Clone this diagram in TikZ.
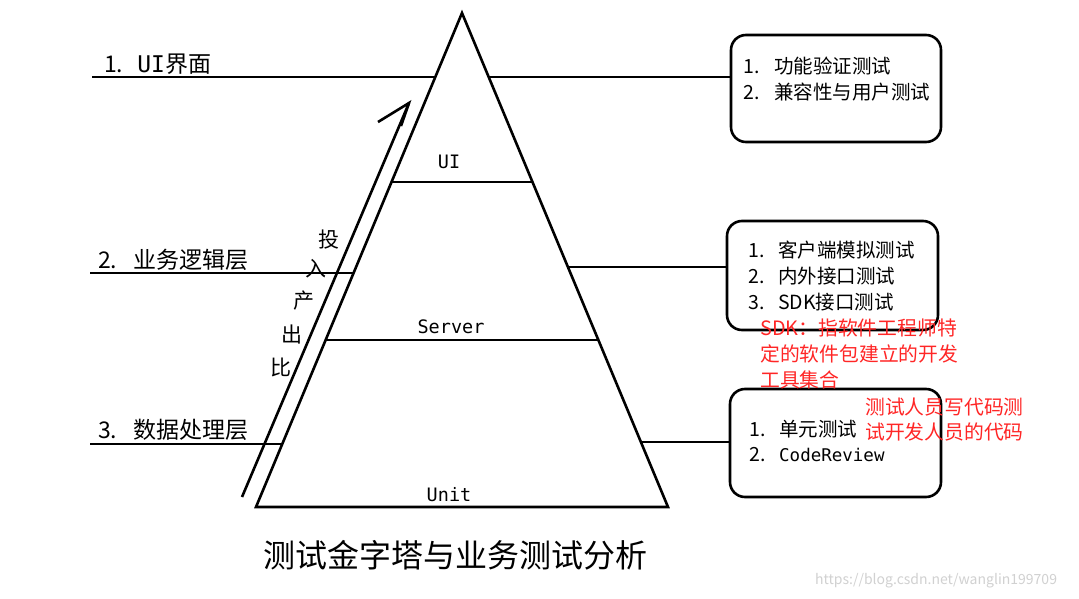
\documentclass[tikz,border=0pt]{standalone}
\usepackage{fontspec}
\setmainfont{Noto Sans CJK SC}
\newfontfamily\monof{DejaVu Sans Mono}
\begin{document}
\begin{tikzpicture}[x=1pt,y=-1pt,
  ln/.style={line width=2.6pt},
  box/.style={draw,line width=2.6pt,rounded corners=15pt,inner sep=0pt},
  lbl/.style={anchor=west,inner sep=0pt,font=\fontsize{23}{26}\selectfont},
  itm/.style={anchor=west,inner sep=0pt,font=\fontsize{19.5}{22}\selectfont},
  red/.style={anchor=west,inner sep=0pt,text=red!85!white,font=\fontsize{19.8}{22}\selectfont},
  lvl/.style={inner sep=0pt,font=\monof\fontsize{18.5}{20}\selectfont},
  vch/.style={inner sep=0pt,font=\fontsize{21}{24}\selectfont}]
\useasboundingbox[fill=white] (0,0) rectangle (1079,599);
% pyramid
\coordinate (apex) at (462,13);
\coordinate (bl) at (256,507);
\coordinate (br) at (668,507);
\draw[ln,line join=miter] (apex) -- (bl) -- (br) -- cycle;
\coordinate (uiL) at (391.5,182); \coordinate (uiR) at (532.5,182);
\coordinate (svL) at (325.6,340); \coordinate (svR) at (598.4,340);
\draw[ln] (uiL) -- (uiR);
\draw[ln] (svL) -- (svR);
\node[lvl] (ui) at (449,162) {UI};
\node[lvl] (server) at (451,327) {Server};
\node[lvl] (unit) at (449,495) {Unit};
% left labels and lines
\node[lbl] (l1) at (104,64) {1.\hspace{14pt}{\monof UI}界面};
\node[lbl] (l2) at (98,260) {2.\hspace{16pt}业务逻辑层};
\node[lbl] (l3) at (98,430) {3.\hspace{16pt}数据处理层};
\coordinate (a1) at (92,77);  \coordinate (e1) at (435,77);
\coordinate (a2) at (90,273); \coordinate (e2) at (354,273);
\coordinate (a3) at (90,444); \coordinate (e3) at (282,444);
\draw[ln] (a1) -- (e1);
\draw[ln] (a2) -- (e2);
\draw[ln] (a3) -- (e3);
% boxes
\node[box,minimum width=210pt,minimum height=107pt] (box1) at (836,88.5) {};
\node[box,minimum width=211pt,minimum height=109pt] (box2) at (832.5,275.5) {};
\node[box,minimum width=211pt,minimum height=108pt] (box3) at (835.5,443) {};
\coordinate (r1) at (489,77);
\coordinate (r2) at (569,267);
\coordinate (r3) at (641,442);
\draw[ln] (r1) -- (r1 -| box1.west);
\draw[ln] (r2) -- (r2 -| box2.west);
\draw[ln] (r3) -- (r3 -| box3.west);
% box texts
\node[itm] (b1a) at (743,66) {\makebox[31pt][l]{1.}功能验证测试};
\node[itm] (b1b) at (743,92) {\makebox[31pt][l]{2.}兼容性与用户测试};
\node[itm] (b2a) at (748,250) {\makebox[30pt][l]{1.}客户端模拟测试};
\node[itm] (b2b) at (748,276) {\makebox[30pt][l]{2.}内外接口测试};
\node[itm] (b2c) at (748,302) {\makebox[30pt][l]{3.}SDK接口测试};
\node[itm] (b3a) at (749,429) {\makebox[30pt][l]{1.}单元测试};
\node[itm] (b3b) at (749,455) {\makebox[30pt][l]{2.}{\monof\fontsize{17.5}{20}\selectfont CodeReview}};
% red notes
\node[red] (n1) at (760,328) {SDK：指软件工程师特};
\node[red] (n2) at (760,354) {定的软件包建立的开发};
\node[red] (n3) at (760,380) {工具集合};
\node[red] (n4) at (865,407) {测试人员写代码测};
\node[red] (n5) at (865,432) {试开发人员的代码};
% arrow
\coordinate (as) at (242,497);
\coordinate (at) at (409,103);
\coordinate (ab1) at (378,122);
\coordinate (ab2) at (401,126);
\draw[ln] (as) -- (at);
\draw[ln] (ab1) -- (at) -- (ab2);
\node[vch] (c1) at (329,240) {投};
\node[vch] (c2) at (316,269) {入};
\node[vch] (c3) at (304,301) {产};
\node[vch] (c4) at (292,335) {出};
\node[vch] (c5) at (281,367) {比};
% title
\node[inner sep=0pt,font=\fontsize{32}{36}\selectfont] (title) at (455,555) {测试金字塔与业务测试分析};
\node[inner sep=0pt,anchor=west,text=black!18,font=\fontsize{14}{16}\selectfont] (wm) at (815,581) {https://blog.csdn.net/wanglin199709};
\end{tikzpicture}
\end{document}
